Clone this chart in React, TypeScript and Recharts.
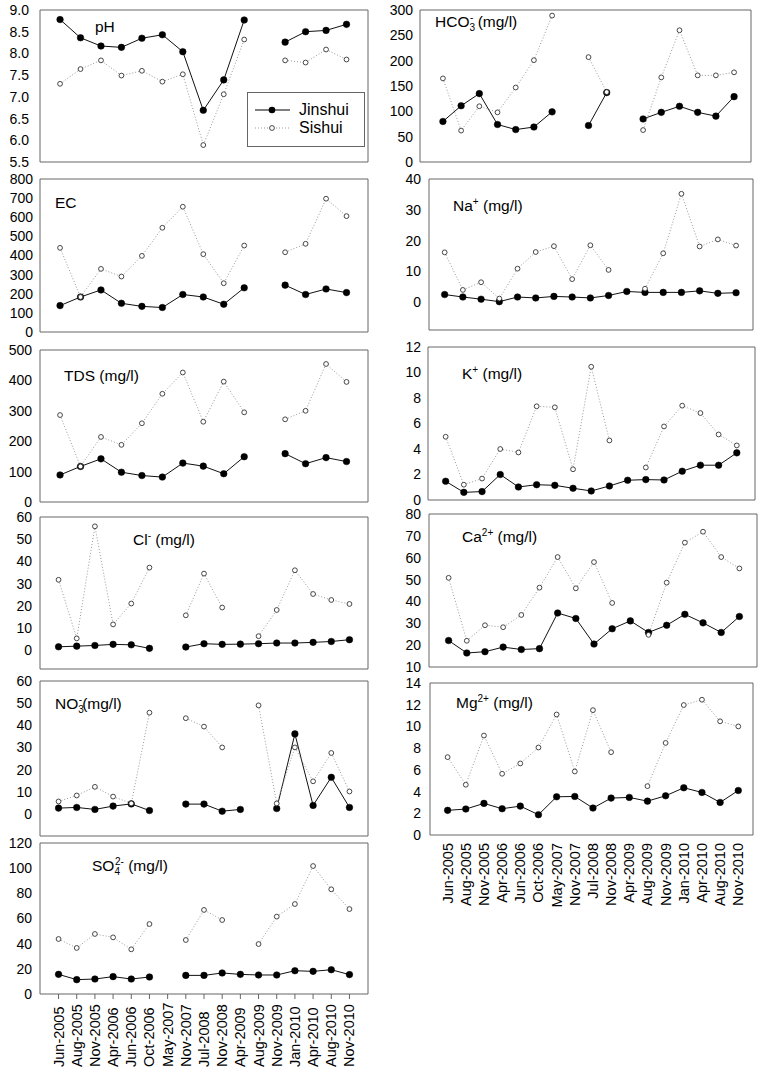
import React from 'react';
import { LineChart, Line, XAxis, YAxis, ReferenceArea, Legend } from 'recharts';

const FONT = '"Liberation Sans", Arial, Helvetica, sans-serif';

// ---------- categories & series names ----------
const dates = [
  'Jun-2005', 'Aug-2005', 'Nov-2005', 'Apr-2006', 'Jun-2006', 'Oct-2006', 'May-2007', 'Nov-2007',
  'Jul-2008', 'Nov-2008', 'Apr-2009', 'Aug-2009', 'Nov-2009', 'Jan-2010', 'Apr-2010', 'Aug-2010', 'Nov-2010',
];
const SERIES_A = 'Jinshui';
const SERIES_B = 'Sishui';

// ---------- values (null = no sample) ----------
const phJinshui = [8.78, 8.36, 8.17, 8.14, 8.35, 8.43, 8.04, 6.69, 7.39, 8.77, null, 8.26, 8.5, 8.53, 8.67];
const phSishui = [7.3, 7.64, 7.84, 7.49, 7.6, 7.35, 7.52, 5.89, 7.06, 8.32, null, 7.84, 7.79, 8.09, 7.86];

const ecJinshui = [138, 183, 220, 150, 134, 128, 196, 183, 145, 231, null, 245, 196, 225, 206];
const ecSishui = [440, 183, 330, 290, 398, 545, 655, 407, 255, 452, null, 417, 461, 697, 606];

const tdsJinshui = [89, 117, 142, 98, 87, 82, 128, 118, 93, 149, null, 159, 126, 146, 133];
const tdsSishui = [286, 117, 214, 188, 259, 356, 426, 264, 396, 295, null, 272, 300, 454, 395];

const clJinshui = [1.5, 1.8, 2.1, 2.6, 2.4, 0.8, null, 1.4, 2.9, 2.6, 2.7, 2.9, 3.2, 3.2, 3.5, 3.9, 4.7];
const clSishui = [31.7, 5.3, 55.8, 11.6, 21.0, 37.2, null, 15.7, 34.5, 19.2, null, 6.3, 18.1, 36.0, 25.3, 22.6, 20.8];

const no3Jinshui = [2.6, 2.9, 2.0, 3.5, 4.5, 1.5, null, 4.4, 4.4, 1.2, 2.0, null, 2.4, 36.1, 3.8, 16.5, 2.9];
const no3Sishui = [5.6, 8.3, 12.2, 7.8, 4.7, 45.7, null, 43.2, 39.4, 30.0, null, 49.0, 4.7, 30.0, 14.7, 27.5, 10.1];

const so4Jinshui = [15.6, 11.4, 11.9, 13.8, 11.9, 13.5, null, 14.8, 14.8, 16.7, 15.6, 15.1, 15.1, 18.5, 18.0, 19.3, 15.4];
const so4Sishui = [43.7, 36.6, 47.7, 45.0, 35.5, 55.6, null, 42.9, 66.8, 58.8, null, 39.7, 61.5, 71.5, 101.7, 83.2, 67.5];

const hco3Jinshui = [80, 111, 135, 74, 64, 69, 99, null, 72, 137, null, 85, 98, 110, 98, 90.5, 129];
const hco3Sishui = [165, 62, 110, 98, 147, 201, 289, null, 207, 138, null, 63, 167, 260, 171, 171, 177];

const naJinshui = [2.5, 1.7, 1.0, 0.2, 1.7, 1.4, 1.9, 1.7, 1.4, 2.2, 3.5, 3.2, 3.2, 3.2, 3.7, 2.9, 3.1];
const naSishui = [16.2, 4.0, 6.5, 1.2, 10.9, 16.3, 18.2, 7.5, 18.5, 10.5, null, 4.4, 15.9, 35.2, 18.1, 20.4, 18.4];

const kJinshui = [1.47, 0.6, 0.66, 2.0, 1.02, 1.2, 1.15, 0.92, 0.71, 1.1, 1.55, 1.6, 1.57, 2.26, 2.73, 2.73, 3.7];
const kSishui = [4.96, 1.2, 1.68, 4.0, 3.73, 7.35, 7.27, 2.41, 10.45, 4.67, null, 2.55, 5.77, 7.4, 6.82, 5.14, 4.28];

const caJinshui = [22.1, 16.4, 17.0, 19.1, 18.0, 18.4, 34.7, 32.2, 20.5, 27.5, 31.1, 25.8, 29.1, 34.1, 30.2, 25.8, 33.1];
const caSishui = [50.8, 22.0, 29.1, 28.2, 33.8, 46.3, 60.3, 46.0, 58.0, 39.3, null, 24.7, 48.6, 66.9, 71.9, 60.3, 55.1];

const mgJinshui = [2.27, 2.39, 2.91, 2.42, 2.66, 1.87, 3.52, 3.55, 2.48, 3.4, 3.46, 3.12, 3.61, 4.35, 3.92, 3.0, 4.1];
const mgSishui = [7.17, 4.63, 9.16, 5.64, 6.59, 8.06, 11.1, 5.85, 11.5, 7.63, null, 4.5, 8.48, 11.97, 12.46, 10.47, 10.0];

// ---------- tick values ----------
const phTicks = [5.5, 6, 6.5, 7, 7.5, 8, 8.5, 9];
const ecTicks = [0, 100, 200, 300, 400, 500, 600, 700, 800];
const tdsTicks = [0, 100, 200, 300, 400, 500];
const clTicks = [0, 10, 20, 30, 40, 50, 60];
const no3Ticks = [0, 10, 20, 30, 40, 50, 60];
const so4Ticks = [0, 20, 40, 60, 80, 100, 120];
const hco3Ticks = [0, 50, 100, 150, 200, 250, 300];
const naTicks = [0, 10, 20, 30, 40];
const kTicks = [0, 2, 4, 6, 8, 10, 12];
const caTicks = [10, 20, 30, 40, 50, 60, 70, 80];
const mgTicks = [0, 2, 4, 6, 8, 10, 12, 14];

// ---------- title helpers ----------
const Sub = ({ c }: { c: string }) => (
  <span style={{ fontSize: 10, position: 'relative', top: 4 }}>{c}</span>
);
const Sup = ({ c, ml = 0 }: { c: string; ml?: number }) => (
  <span style={{ fontSize: 10, position: 'relative', top: -6, marginLeft: ml }}>{c}</span>
);

type Panel = {
  id: string;
  title: React.ReactNode;
  titlePos: [number, number]; // left, baseline
  box: { l: number; r: number; t: number; b: number };
  xDomain: [number, number];
  yDomain: [number, number];
  yTicks: number[];
  fmt?: (v: number) => string;
  gap: number;
  jin: (number | null)[];
  si: (number | null)[];
  xLabels?: 'start' | 'end';
  labelY?: number;
  legend?: boolean;
};

const LEFT = { l: 40, r: 368 };

const panels: Panel[] = [
  {
    id: 'ph', title: 'pH', titlePos: [95, 32],
    box: { ...LEFT, t: 10, b: 162 }, xDomain: [-0.98, 15.05], yDomain: [5.5, 9], yTicks: phTicks,
    fmt: (v) => v.toFixed(1), gap: 11, jin: phJinshui, si: phSishui, legend: true,
  },
  {
    id: 'ec', title: 'EC', titlePos: [55, 208],
    box: { ...LEFT, t: 179, b: 332 }, xDomain: [-0.98, 15.05], yDomain: [0, 800], yTicks: ecTicks,
    gap: 7, jin: ecJinshui, si: ecSishui,
  },
  {
    id: 'tds', title: 'TDS (mg/l)', titlePos: [64, 381],
    box: { ...LEFT, t: 350, b: 502 }, xDomain: [-0.98, 15.05], yDomain: [0, 500], yTicks: tdsTicks,
    gap: 8, jin: tdsJinshui, si: tdsSishui,
  },
  {
    id: 'cl', title: (<>Cl<Sup c="-" /> (mg/l)</>), titlePos: [133, 545],
    box: { ...LEFT, t: 517, b: 669 }, xDomain: [-1.02, 17.02], yDomain: [-8.5, 60], yTicks: clTicks,
    gap: 8, jin: clJinshui, si: clSishui,
  },
  {
    id: 'no3', title: (<>NO<Sub c="3" /><Sup c="-" ml={-5} />(mg/l)</>), titlePos: [55, 709],
    box: { ...LEFT, t: 681, b: 836 }, xDomain: [-1.02, 17.02], yDomain: [-10, 60], yTicks: no3Ticks,
    gap: 8, jin: no3Jinshui, si: no3Sishui,
  },
  {
    id: 'so4', title: (<>SO<Sub c="4" /><Sup c="2-" ml={-5} /> (mg/l)</>), titlePos: [92, 871],
    box: { ...LEFT, t: 843, b: 994 }, xDomain: [-1.02, 17.02], yDomain: [0, 120], yTicks: so4Ticks,
    gap: 8, jin: so4Jinshui, si: so4Sishui, xLabels: 'start', labelY: 1067,
  },
  {
    id: 'hco3', title: (<>HCO<Sub c="3" /><Sup c="-" ml={-5} /> (mg/l)</>), titlePos: [435, 27],
    box: { l: 420, r: 751, t: 10, b: 162 }, xDomain: [-1.26, 16.93], yDomain: [0, 300], yTicks: hco3Ticks,
    gap: 7, jin: hco3Jinshui, si: hco3Sishui,
  },
  {
    id: 'na', title: (<>Na<Sup c="+" /> (mg/l)</>), titlePos: [453, 211],
    box: { l: 429, r: 753, t: 179, b: 330 }, xDomain: [-0.86, 16.93], yDomain: [-9, 40], yTicks: naTicks,
    gap: 8, jin: naJinshui, si: naSishui,
  },
  {
    id: 'k', title: (<>K<Sup c="+" /> (mg/l)</>), titlePos: [462, 379],
    box: { l: 428, r: 755, t: 347, b: 500 }, xDomain: [-0.97, 17.0], yDomain: [0, 12], yTicks: kTicks,
    gap: 7, jin: kJinshui, si: kSishui,
  },
  {
    id: 'ca', title: (<>Ca<Sup c="2+" /> (mg/l)</>), titlePos: [462, 542],
    box: { l: 429, r: 757, t: 514, b: 667 }, xDomain: [-1.08, 16.97], yDomain: [10, 80], yTicks: caTicks,
    gap: 8, jin: caJinshui, si: caSishui,
  },
  {
    id: 'mg', title: (<>Mg<Sup c="2+" /> (mg/l)</>), titlePos: [456, 708],
    box: { l: 430, r: 753, t: 683, b: 835 }, xDomain: [-0.97, 16.81], yDomain: [0, 14], yTicks: mgTicks,
    gap: 9, jin: mgJinshui, si: mgSishui, xLabels: 'end', labelY: 843,
  },
];

const indexTicks = dates.map((_, i) => i);

const LegendBox = () => (
  <svg width={119} height={56} style={{ display: 'block' }}>
    <rect x={0.5} y={0.5} width={117} height={54} fill="#fff" stroke="#666" />
    <line x1={8} x2={43} y1={18} y2={18} stroke="#000" strokeWidth={1} />
    <circle cx={25} cy={18} r={3.3} fill="#000" />
    <text x={52} y={22.5} fontSize={16} fontFamily={FONT} fill="#000">{SERIES_A}</text>
    <line x1={8} x2={43} y1={36} y2={36} stroke="#999" strokeWidth={1} strokeDasharray="1 2" />
    <circle cx={25} cy={36} r={2.4} fill="#fff" stroke="#333" strokeWidth={0.9} />
    <text x={52} y={40.7} fontSize={16} fontFamily={FONT} fill="#000">{SERIES_B}</text>
  </svg>
);

const YW = 40;
const MT = 10;
const MR = 4;
const MB = 10;

function PanelChart({ p }: { p: Panel }) {
  const plotW = p.box.r - p.box.l;
  const plotH = p.box.b - p.box.t;
  const XH = p.xLabels ? 78 : 0;
  const mb = p.xLabels ? 2 : MB;
  const width = YW + plotW + MR;
  const height = MT + plotH + XH + mb;
  const divLeft = p.box.l - YW;
  const divTop = p.box.t - MT;
  const data = p.jin.map((v, i) => ({ i, jin: v, si: p.si[i] }));
  const baseY = p.labelY ? p.labelY - divTop : 0;

  const xTick = (props: any) => {
    const { x, payload } = props;
    const label = dates[payload.value];
    return (
      <text
        transform={`translate(${x + 5},${baseY}) rotate(-90)`}
        textAnchor={p.xLabels === 'start' ? 'start' : 'end'}
        fontSize={14.5}
        fontFamily={FONT}
        fill="#000"
      >
        {label}
      </text>
    );
  };

  return (
    <div style={{ position: 'absolute', left: divLeft, top: divTop }}>
      <LineChart width={width} height={height} data={data} margin={{ top: MT, right: MR, bottom: mb, left: 0 }}>
        <XAxis
          type="number"
          dataKey="i"
          domain={p.xDomain}
          allowDataOverflow
          hide={!p.xLabels}
          ticks={indexTicks}
          interval={0}
          height={XH || 1}
          axisLine={false}
          tickLine={p.xLabels === 'start' ? { stroke: '#666' } : false}
          tickSize={5}
          tick={xTick}
        />
        <YAxis
          type="number"
          width={YW}
          domain={p.yDomain}
          allowDataOverflow
          ticks={p.yTicks}
          interval={0}
          axisLine={false}
          tickLine={false}
          tickSize={0}
          tickMargin={p.gap}
          tick={{ fontSize: 14, fill: '#000', fontFamily: FONT }}
          tickFormatter={p.fmt ? (v: number) => p.fmt!(v) : undefined}
        />
        <ReferenceArea
          x1={p.xDomain[0]}
          x2={p.xDomain[1]}
          y1={p.yDomain[0]}
          y2={p.yDomain[1]}
          fill="none"
          fillOpacity={0}
          stroke="#666"
          strokeWidth={1}
          ifOverflow="visible"
        />
        <Line
          type="linear"
          dataKey="jin"
          name={SERIES_A}
          stroke="#111"
          strokeWidth={1}
          dot={{ r: 3.3, fill: '#000', stroke: '#000', strokeWidth: 0.5 }}
          activeDot={false}
          isAnimationActive={false}
        />
        <Line
          type="linear"
          dataKey="si"
          name={SERIES_B}
          stroke="#999"
          strokeWidth={1}
          strokeDasharray="1 2"
          dot={{ r: 2.4, fill: '#fff', stroke: '#333', strokeWidth: 0.9, strokeDasharray: '' }}
          activeDot={false}
          isAnimationActive={false}
        />
        {p.legend && (
          <Legend
            layout="horizontal"
            verticalAlign="middle"
            align="center"
            content={LegendBox}
            wrapperStyle={{ position: 'absolute', left: 247 - divLeft, top: 92 - divTop, width: 119, height: 56 }}
          />
        )}
      </LineChart>
    </div>
  );
}

export default function App() {
  return (
    <div style={{ position: 'absolute', left: 0, top: 0, width: 762, height: 1076, background: '#fff', fontFamily: FONT }}>
      {panels.map((p) => (
        <PanelChart key={p.id} p={p} />
      ))}
      {panels.map((p) => (
        <div
          key={p.id + '-t'}
          style={{
            position: 'absolute',
            left: p.titlePos[0],
            top: p.titlePos[1] - 13.4,
            fontSize: 15.5,
            lineHeight: '16px',
            whiteSpace: 'nowrap',
            color: '#000',
            fontFamily: FONT,
          }}
        >
          {p.title}
        </div>
      ))}
    </div>
  );
}
